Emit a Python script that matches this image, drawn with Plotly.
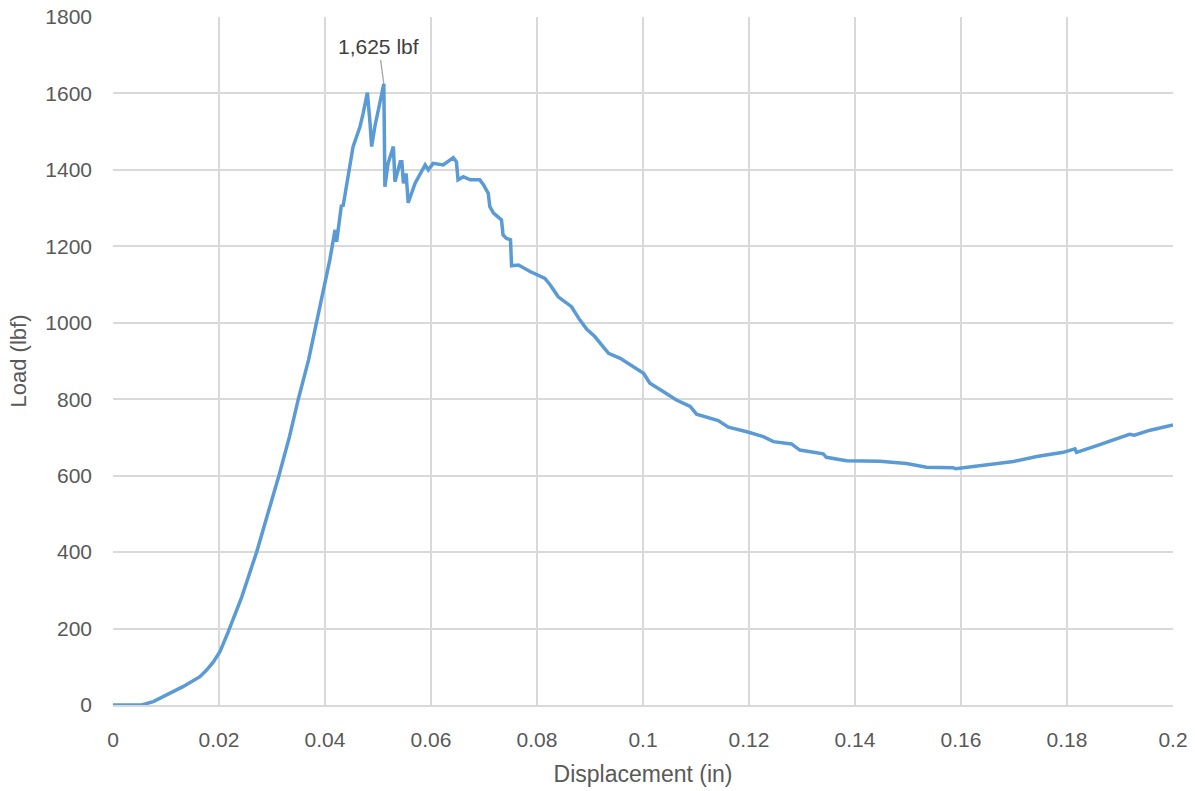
import plotly.graph_objects as go

# Load–displacement record
displacement_in = [
    0.0, 0.0054, 0.0076, 0.0101, 0.0132, 0.0164, 0.0177, 0.0189, 0.0202, 0.0217,
    0.0243, 0.0271, 0.0293, 0.0313, 0.0333, 0.0350, 0.0369, 0.0384, 0.0397, 0.0409,
    0.0419, 0.0422, 0.0431, 0.0434, 0.0453, 0.0463, 0.0466, 0.0472, 0.0480, 0.0485,
    0.0488, 0.0494, 0.0504, 0.0511, 0.0513, 0.0519, 0.0529, 0.0532, 0.0542, 0.0545,
    0.0548, 0.0553, 0.0557, 0.0570, 0.0589, 0.0595, 0.0604, 0.0623, 0.0642, 0.0648,
    0.0651, 0.0661, 0.0674, 0.0692, 0.0699, 0.0708, 0.0711, 0.0718, 0.0733, 0.0736,
    0.0742, 0.0750, 0.0752, 0.0765, 0.0787, 0.0815, 0.0825, 0.0840, 0.0865, 0.0881,
    0.0894, 0.0909, 0.0935, 0.0957, 0.1001, 0.1013, 0.1038, 0.1063, 0.1089, 0.1101,
    0.1142, 0.1161, 0.1196, 0.1227, 0.1246, 0.1280, 0.1296, 0.1340, 0.1346, 0.1384,
    0.1447, 0.1497, 0.1535, 0.1585, 0.1590, 0.1648, 0.1699, 0.1743, 0.1793, 0.1815,
    0.1818, 0.1855, 0.1887, 0.1918, 0.1927, 0.1957, 0.2000,
]
load_lbf = [
    0, 0, 9, 26, 48, 74, 92, 112, 140, 190,
    283, 400, 502, 600, 702, 802, 903, 1001, 1086, 1164,
    1243, 1212, 1308, 1304, 1461, 1504, 1513, 1548, 1602, 1522,
    1461, 1513, 1583, 1625, 1356, 1417, 1461, 1369, 1421, 1421,
    1365, 1391, 1314, 1365, 1413, 1400, 1417, 1413, 1432, 1421,
    1374, 1382, 1374, 1374, 1361, 1339, 1304, 1287, 1269, 1230,
    1221, 1217, 1149, 1151, 1134, 1116, 1099, 1068, 1042, 1007,
    983, 964, 920, 907, 868, 842, 820, 798, 781, 761,
    744, 727, 715, 702, 689, 683, 667, 657, 648, 639,
    638, 632, 622, 621, 618, 628, 637, 650, 661, 670,
    661, 678, 693, 708, 706, 719, 733,
]

# Axis ticks
x_ticks = [0, 0.02, 0.04, 0.06, 0.08, 0.1, 0.12, 0.14, 0.16, 0.18, 0.2]
x_tick_text = ["0", "0.02", "0.04", "0.06", "0.08", "0.1", "0.12", "0.14", "0.16", "0.18", "0.2"]
y_ticks = [0, 200, 400, 600, 800, 1000, 1200, 1400, 1600, 1800]

# Peak callout
peak_load = max(load_lbf)
peak_disp = displacement_in[load_lbf.index(peak_load)]

FONT = "Liberation Sans"
TEXT = "#595959"
GRID = "#d9d9d9"

fig = go.Figure()
fig.add_trace(go.Scatter(
    x=displacement_in, y=load_lbf, mode="lines",
    line=dict(color="#5B9BD5", width=3.5), showlegend=False,
))

fig.add_annotation(
    x=peak_disp, y=peak_load, text=f"{peak_load:,} lbf",
    showarrow=True, arrowhead=0, arrowwidth=1.3, arrowcolor="#a6a6a6",
    ax=-5, ay=-37, font=dict(family=FONT, size=21, color="#404040"),
)

fig.update_layout(
    width=1195, height=791,
    margin=dict(l=113, r=22, t=17, b=86, autoexpand=False),
    paper_bgcolor="white", plot_bgcolor="white",
    font=dict(family=FONT, color=TEXT),
)
fig.update_xaxes(
    range=[0, 0.2], tickvals=x_ticks, ticktext=x_tick_text,
    showgrid=True, gridcolor=GRID, gridwidth=1.5,
    showline=True, linecolor=GRID, linewidth=1.5, mirror=False,
    zeroline=False, ticks="", ticklabelstandoff=15,
    tickfont=dict(family=FONT, size=21, color=TEXT),
    title=dict(text="Displacement (in)", font=dict(family=FONT, size=23, color=TEXT), standoff=16),
)
fig.update_yaxes(
    range=[0, 1800], tickvals=y_ticks,
    showgrid=True, gridcolor=GRID, gridwidth=1.5,
    showline=False, zeroline=False, ticks="", ticklabelstandoff=20,
    tickfont=dict(family=FONT, size=21, color=TEXT),
    title=dict(text="Load (lbf)", font=dict(family=FONT, size=22, color=TEXT), standoff=12),
)

fig.write_html("out.html")
